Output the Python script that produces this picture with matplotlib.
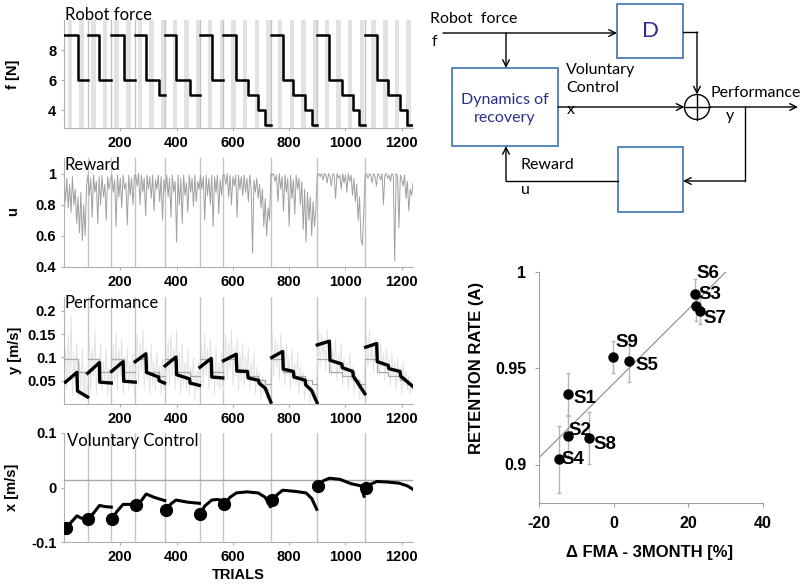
import numpy as np
import matplotlib
matplotlib.use("Agg")
import matplotlib.pyplot as plt
from matplotlib.patches import Rectangle, Circle

plt.rcParams['font.family'] = ['Liberation Sans', 'DejaVu Sans']

# ---------------- data ----------------
# session limits (trial numbers)
sessions = [0, 84, 168, 253, 359, 482, 566, 735, 899, 1070, 1240]

# robot force steps per session: (start trial, force level)
force_steps = [
    [(0, 9), (48, 6)],
    [(84, 9), (126, 6)],
    [(168, 9), (212, 6)],
    [(253, 9), (292, 6), (336, 5)],
    [(359, 9), (398, 6), (446, 5)],
    [(482, 9), (525, 6)],
    [(566, 9), (612, 6), (652, 5), (691, 4), (715, 3)],
    [(736, 9), (777, 6), (815, 5), (857, 4), (880, 3)],
    [(899, 9), (943, 6), (987, 5), (1026, 4), (1048, 3)],
    [(1070, 9), (1111, 6), (1152, 5), (1194, 4), (1218, 3)],
]
# performance expected from force alone (grey step line)
perf_of_force = {9: 0.096, 6: 0.069, 5: 0.060, 4: 0.051, 3: 0.042}

# reward, every 5 trials
reward_trials = np.arange(0, 1245, 5)
reward = [
    0.99, 0.82, 0.97, 0.78, 0.93, 0.75, 0.98, 0.80, 0.90, 0.68, 0.85, 0.62, 0.88, 0.57, 0.80, 0.60, 0.92,
    0.99, 0.86, 0.97, 0.72, 0.99, 0.88, 0.95, 0.68, 0.98, 0.80, 0.99, 0.85, 0.93, 0.70, 0.98, 0.90, 0.96,
    0.99, 0.88, 0.96, 0.66, 0.99, 0.85, 0.97, 0.78, 0.99, 0.90, 0.94, 0.67, 0.99, 0.86, 0.97, 0.80, 0.99,
    0.99, 0.92, 1.0, 0.80, 0.99, 0.88, 0.97, 0.73, 0.99, 0.90, 0.98, 0.84, 0.99, 0.76, 0.96, 0.90, 0.99, 0.82, 0.98, 0.70, 0.96, 0.88,
    0.99, 0.85, 0.97, 0.72, 0.99, 0.88, 0.95, 0.56, 0.99, 0.80, 0.97, 0.68, 0.99, 0.86, 0.94, 0.75, 0.99, 0.88, 0.97, 0.79, 0.99, 0.82, 0.95, 0.90,
    0.99, 0.90, 0.98, 0.70, 0.99, 0.86, 0.97, 0.80, 0.99, 0.66, 0.98, 0.88, 0.99, 0.74, 0.96, 0.86, 0.99,
    0.99, 0.93, 1.0, 0.85, 0.99, 0.80, 0.98, 0.92, 0.99, 0.72, 0.99, 0.90, 0.98, 0.86, 0.99, 0.88, 0.97, 0.82, 0.99, 0.91, 0.49, 0.96, 0.88, 0.97, 0.84, 0.93, 0.78, 0.90, 0.66, 0.84, 0.60, 0.78, 0.70,
    1.0, 0.99, 1.0, 0.95, 0.99, 0.82, 1.0, 0.90, 0.98, 0.76, 0.99, 0.88, 0.97, 0.66, 0.99, 0.84, 0.96, 0.74, 0.99, 0.90, 0.97, 0.80, 0.95, 0.64, 0.90, 0.56, 0.88, 0.70, 0.85, 0.60, 0.82, 0.66, 0.78,
    0.99, 1.0, 0.98, 1.0, 0.96, 1.0, 0.99, 0.94, 1.0, 0.98, 0.92, 1.0, 0.99, 0.84, 1.0, 0.97, 0.99, 0.90, 1.0, 0.94, 0.99, 0.88, 1.0, 0.95, 0.99, 0.86, 0.97, 0.82, 0.93, 0.70, 0.85, 0.58, 0.54, 0.75,
    0.99, 1.0, 0.97, 1.0, 0.99, 0.94, 1.0, 0.98, 0.92, 1.0, 0.99, 0.96, 1.0, 0.80, 0.99, 1.0, 0.97, 0.99, 0.95, 1.0, 0.99, 0.44, 1.0, 0.98, 0.65, 0.99, 0.96, 0.92, 0.99, 0.84, 0.95, 0.76, 0.90, 0.86, 0.94,
]

# measured performance (light grey), every 5 trials
perf_raw = [
    0.02, 0.12, 0.03, 0.15, 0.05, 0.19, 0.02, 0.11, 0.04, 0.13, 0.01, 0.09, 0.03, 0.12, 0.01, 0.08, 0.02,
    0.05, 0.14, 0.03, 0.12, 0.06, 0.16, 0.02, 0.10, 0.04, 0.13, 0.03, 0.09, 0.05, 0.12, 0.02, 0.08, 0.03,
    0.04, 0.13, 0.05, 0.15, 0.03, 0.12, 0.06, 0.14, 0.02, 0.10, 0.05, 0.12, 0.03, 0.09, 0.04, 0.11, 0.02,
    0.06, 0.15, 0.04, 0.13, 0.07, 0.16, 0.03, 0.12, 0.05, 0.10, 0.02, 0.13, 0.04, 0.09, 0.03, 0.11, 0.05, 0.08, 0.02, 0.10, 0.03, 0.07,
    0.05, 0.14, 0.04, 0.15, 0.06, 0.12, 0.03, 0.16, 0.05, 0.11, 0.02, 0.13, 0.04, 0.09, 0.03, 0.12, 0.02, 0.08, 0.04, 0.10, 0.01, 0.07, 0.03, 0.09,
    0.05, 0.13, 0.04, 0.15, 0.06, 0.12, 0.03, 0.14, 0.05, 0.10, 0.02, 0.12, 0.04, 0.09, 0.03, 0.11, 0.02,
    0.06, 0.15, 0.05, 0.13, 0.07, 0.16, 0.04, 0.12, 0.06, 0.14, 0.03, 0.11, 0.05, 0.13, 0.04, 0.10, 0.06, 0.12, 0.03, 0.09, 0.05, 0.11, 0.02, 0.08, 0.04, 0.07, 0.01, 0.06, 0.02, 0.05, 0.01, 0.04, 0.00,
    0.07, 0.15, 0.06, 0.14, 0.08, 0.13, 0.05, 0.15, 0.07, 0.12, 0.04, 0.13, 0.06, 0.10, 0.03, 0.12, 0.05, 0.09, 0.04, 0.11, 0.02, 0.08, 0.04, 0.07, 0.01, 0.06, 0.03, 0.05, 0.00, 0.04, 0.01, 0.03, 0.00,
    0.09, 0.16, 0.08, 0.15, 0.10, 0.14, 0.07, 0.16, 0.09, 0.13, 0.06, 0.12, 0.08, 0.14, 0.05, 0.11, 0.07, 0.13, 0.04, 0.10, 0.06, 0.09, 0.03, 0.11, 0.05, 0.08, 0.02, 0.07, 0.04, 0.06, 0.01, 0.05, 0.02, 0.03,
    0.10, 0.15, 0.08, 0.16, 0.09, 0.13, 0.07, 0.14, 0.10, 0.12, 0.06, 0.13, 0.08, 0.11, 0.05, 0.12, 0.07, 0.10, 0.04, 0.11, 0.06, 0.09, 0.03, 0.10, 0.05, 0.08, 0.02, 0.09, 0.04, 0.07, 0.03, 0.06, 0.02, 0.05, 0.03,
]

# model performance (black) per session: (trial, value)
perf_model = [
    [(5, 0.047), (46, 0.068), (48, 0.028), (84, 0.015)],
    [(84, 0.066), (126, 0.089), (127, 0.047), (168, 0.045)],
    [(169, 0.070), (210, 0.091), (212, 0.049), (253, 0.047)],
    [(253, 0.091), (291, 0.108), (293, 0.068), (336, 0.058), (338, 0.050), (357, 0.045)],
    [(359, 0.082), (398, 0.101), (400, 0.063), (446, 0.054), (448, 0.045), (481, 0.040)],
    [(483, 0.079), (523, 0.098), (525, 0.058), (564, 0.056)],
    [(567, 0.093), (612, 0.107), (614, 0.071), (652, 0.070), (654, 0.056), (691, 0.051), (693, 0.045), (715, 0.034), (735, 0.004)],
    [(738, 0.100), (777, 0.113), (779, 0.075), (815, 0.070), (817, 0.058), (857, 0.051), (859, 0.041), (880, 0.029), (899, 0.003)],
    [(900, 0.127), (943, 0.135), (945, 0.094), (987, 0.086), (989, 0.078), (1026, 0.070), (1028, 0.060), (1069, 0.022)],
    [(1072, 0.122), (1111, 0.130), (1113, 0.091), (1152, 0.083), (1154, 0.076), (1194, 0.070), (1196, 0.060), (1239, 0.038)],
]

# voluntary control per session: (trial, value)
vol_control = [
    [(7, -0.075), (25, -0.064), (46, -0.052), (60, -0.056), (84, -0.058)],
    [(84, -0.058), (105, -0.047), (126, -0.033), (145, -0.035), (168, -0.036)],
    [(169, -0.058), (188, -0.044), (210, -0.031), (230, -0.031), (253, -0.031)],
    [(255, -0.033), (275, -0.024), (292, -0.012), (320, -0.018), (358, -0.024)],
    [(361, -0.041), (380, -0.030), (398, -0.023), (440, -0.027), (481, -0.029)],
    [(483, -0.049), (500, -0.034), (525, -0.023), (545, -0.022), (564, -0.024)],
    [(568, -0.031), (590, -0.018), (612, -0.010), (650, -0.008), (690, -0.010), (715, -0.018), (733, -0.035)],
    [(738, -0.023), (760, -0.012), (777, -0.005), (820, -0.007), (860, -0.010), (880, -0.020), (898, -0.040)],
    [(903, 0.003), (920, 0.012), (943, 0.017), (980, 0.015), (1020, 0.007), (1055, 0.003), (1060, -0.004), (1066, -0.016)],
    [(1072, -0.001), (1090, 0.006), (1111, 0.011), (1150, 0.010), (1190, 0.008), (1220, 0.003), (1239, -0.003)],
]
vol_reference = 0.0136

# retention rate vs FMA change
subjects = ['S1', 'S2', 'S3', 'S4', 'S5', 'S6', 'S7', 'S8', 'S9']
fma_change = [-12.3, -12.3, 21.9, -14.6, 4.2, 22.0, 23.1, -6.6, -0.1]
retention = [0.9364, 0.9146, 0.9885, 0.9026, 0.9536, 0.9825, 0.9800, 0.9138, 0.9558]
retention_err = [0.011, 0.011, 0.008, 0.0175, 0.0105, 0.008, 0.007, 0.0135, 0.0085]
label_offsets = [(1.5, -0.002), (0.2, 0.003), (0.8, 0.0), (0.6, 0.0), (1.7, -0.002),
                 (0.3, 0.0165), (0.9, -0.004), (1.1, -0.0035), (0.5, 0.0075)]

W, H = 800, 584
fig = plt.figure(figsize=(W / 100, H / 100), dpi=100)


def px_axes(l, t, r, b):
    return fig.add_axes([l / W, 1 - b / H, (r - l) / W, (b - t) / H])


grey_line = '#c4c4c4'
tick_font = dict(size=10.5, weight='bold')


def style_time_axis(ax, ylim, yticks, yticklabels):
    ax.set_xlim(0, 1240)
    ax.set_ylim(*ylim)
    ax.set_xticks([200, 400, 600, 800, 1000, 1200])
    ax.set_xticklabels(['200', '400', '600', '800', '1000', '1200'], fontdict=tick_font)
    ax.set_yticks(yticks)
    ax.set_yticklabels(yticklabels, fontdict=tick_font)
    for s in ['top', 'right']:
        ax.spines[s].set_visible(False)
    for s in ['left', 'bottom']:
        ax.spines[s].set_color('#b0b0b0')
    ax.tick_params(length=2.5, color='#b0b0b0', pad=3)
    ax.patch.set_alpha(0)


def draw_boundaries(ax):
    for b in sessions[1:-1]:
        ax.axvline(b, color=grey_line, lw=1, zorder=1)


# panel 1: robot force
ax1 = px_axes(64, 20, 413, 128)
for s in np.arange(13, 1240, 41.5):
    ax1.axvspan(s, min(s + 16, 1240), color='#e2e2e2', lw=0, zorder=0)
draw_boundaries(ax1)
for k, steps in enumerate(force_steps):
    xs = [t for t, _ in steps] + [sessions[k + 1]]
    ys = [f for _, f in steps] + [steps[-1][1]]
    ax1.step(xs, ys, where='post', color='black', lw=1.8, zorder=3)
style_time_axis(ax1, (2.8, 10), [4, 6, 8], ['4', '6', '8'])

# panel 2: reward
ax2 = px_axes(64, 158, 413, 267)
draw_boundaries(ax2)
ax2.plot(reward_trials, reward, color='#a0a0a0', lw=0.7, zorder=2)
style_time_axis(ax2, (0.4, 1.1), [0.4, 0.6, 0.8, 1.0], ['0.4', '0.6', '0.8', '1'])

# panel 3: performance
ax3 = px_axes(64, 297, 413, 404)
draw_boundaries(ax3)
ax3.plot(reward_trials, perf_raw, color='#e0e0e0', lw=0.6, zorder=2)
for k, steps in enumerate(force_steps):
    xs = [t for t, _ in steps] + [sessions[k + 1]]
    ys = [perf_of_force[f] for _, f in steps] + [perf_of_force[steps[-1][1]]]
    ax3.step(xs, ys, where='post', color='#a8a8a8', lw=0.9, zorder=3)
for seg in perf_model:
    ax3.plot([t for t, _ in seg], [v for _, v in seg], color='black', lw=2.4, zorder=4)
style_time_axis(ax3, (0, 0.23), [0.05, 0.1, 0.15, 0.2], ['0.05', '0.1', '0.15', '0.2'])

# panel 4: voluntary control
ax4 = px_axes(64, 433, 413, 542)
draw_boundaries(ax4)
ax4.axhline(vol_reference, color='#a8a8a8', lw=1, zorder=2)
for seg in vol_control:
    ax4.plot([t for t, _ in seg], [v for _, v in seg], color='black', lw=2.2, zorder=4)
    ax4.plot(seg[0][0], seg[0][1], 'o', color='black', ms=8.5, zorder=5)
style_time_axis(ax4, (-0.1, 0.1), [-0.1, 0, 0.1], ['-0.1', '0', '0.1'])

calibri = ['Lato', 'DejaVu Sans']
fig.text(65 / W, 1 - 20 / H, 'Robot force', family=calibri, size=12, va='baseline')
fig.text(65 / W, 1 - 170 / H, 'Reward', family=calibri, size=12, va='baseline')
fig.text(65 / W, 1 - 308 / H, 'Performance', family=calibri, size=12, va='baseline')
fig.text(67 / W, 1 - 446 / H, 'Voluntary Control', family=calibri, size=12, va='baseline')

ylab = dict(size=10.5, weight='bold', rotation=90, ha='center', va='center')
fig.text(13 / W, 1 - 74 / H, 'f [N]', **ylab)
fig.text(13 / W, 1 - 212 / H, 'u', **ylab)
fig.text(15 / W, 1 - 350 / H, 'y [m/s]', **ylab)
fig.text(12 / W, 1 - 487 / H, 'x [m/s]', **ylab)
fig.text(238 / W, 1 - 575 / H, 'TRIALS', size=10.5, weight='bold', ha='center', va='center')

# scatter: retention rate vs FMA
ax5 = px_axes(539, 272, 763, 503)
ax5.errorbar(fma_change, retention, yerr=retention_err, fmt='none',
             ecolor='#b5b5b5', elinewidth=1, capsize=1.5, zorder=1)
coef = np.polyfit(fma_change, retention, 1)
fit_x = np.array([-20, 30])
ax5.plot(fit_x, np.polyval(coef, fit_x), color='#8a8a8a', lw=0.8, zorder=2)
ax5.plot(fma_change, retention, 'o', color='black', ms=6.5, zorder=3)
for name, x, y, (dx, dy) in zip(subjects, fma_change, retention, label_offsets):
    ax5.text(x + dx, y + dy, name, size=13.5, weight='bold', va='center', ha='left', zorder=4)
ax5.set_xlim(-20, 40)
ax5.set_ylim(0.88, 1.0)
sc_font = dict(size=11.5, weight='bold')
ax5.set_xticks([-20, 0, 20, 40])
ax5.set_xticklabels(['-20', '0', '20', '40'], fontdict=sc_font)
ax5.set_yticks([0.9, 0.95, 1.0])
ax5.set_yticklabels(['0.9', '0.95', '1'], fontdict=sc_font)
for s in ['top', 'right']:
    ax5.spines[s].set_visible(False)
for s in ['left', 'bottom']:
    ax5.spines[s].set_color('#a0a0a0')
ax5.tick_params(length=3, color='#a0a0a0', pad=6)
ax5.patch.set_alpha(0)
fig.text(477 / W, 1 - 368 / H, 'RETENTION RATE (A)', size=12, weight='bold',
         rotation=90, ha='center', va='center')
fig.text(650 / W, 1 - 552 / H, '\u0394 FMA - 3MONTH [%]', size=12, weight='bold',
         ha='center', va='center')

# block diagram (drawn in pixel coordinates)
axd = fig.add_axes([0, 0, 1, 1])
axd.set_xlim(0, W)
axd.set_ylim(H, 0)
axd.axis('off')
axd.patch.set_alpha(0)

box_col = '#4a7ebb'
txt_col = '#2e2e8a'
for (x0, y0, x1, y1) in [(617, 4, 683, 58), (452, 68, 558, 146), (618, 147, 683, 212)]:
    axd.add_patch(Rectangle((x0, y0), x1 - x0, y1 - y0, fill=False, ec=box_col, lw=1.3))
cx, cy, r = 697, 107, 12.5
axd.add_patch(Circle((cx, cy), r, fill=False, ec='black', lw=1))
axd.plot([cx, cx], [cy - r, cy + r], color='black', lw=1)
axd.plot([cx - r, cx + r], [cy, cy], color='black', lw=1)


def arrow(p0, p1):
    axd.annotate('', xy=p1, xytext=p0,
                 arrowprops=dict(arrowstyle='->', color='black', lw=1, shrinkA=0, shrinkB=0,
                                 mutation_scale=12))


def line(xs, ys):
    axd.plot(xs, ys, color='black', lw=1)


arrow((443, 33), (617, 33))
arrow((506, 33), (506, 68))
line([683, 697], [32, 32])
arrow((697, 32), (697, cy - r))
arrow((558, 107), (cx - r, 107))
arrow((cx + r, 107), (798, 107))
line([745, 745], [107, 181])
arrow((745, 181), (683, 181))
line([618, 506], [181, 181])
arrow((506, 181), (506, 146))

axd.text(650, 31, 'D', family=calibri, size=16, color=txt_col, ha='center', va='center')
axd.text(505, 100, 'Dynamics of', family=calibri, size=11.5, color=txt_col, ha='center', va='center')
axd.text(505, 118, 'recovery', family=calibri, size=11.5, color=txt_col, ha='center', va='center')
axd.text(430, 23, 'Robot  force', family=calibri, size=11.5, va='baseline')
axd.text(432, 42, 'f', family=calibri, size=11.5, va='center')
axd.text(566, 70, 'Voluntary', family=calibri, size=11.5, va='center')
axd.text(566, 88, 'Control', family=calibri, size=11.5, va='center')
axd.text(567, 110, 'x', family=calibri, size=11.5, va='center')
axd.text(710, 93, 'Performance', family=calibri, size=11.5, va='center')
axd.text(726, 116, 'y', family=calibri, size=11.5, va='center')
axd.text(520, 165, 'Reward', family=calibri, size=11.5, va='center')
axd.text(521, 190, 'u', family=calibri, size=11.5, va='center')

fig.savefig('out.png', dpi=100)
